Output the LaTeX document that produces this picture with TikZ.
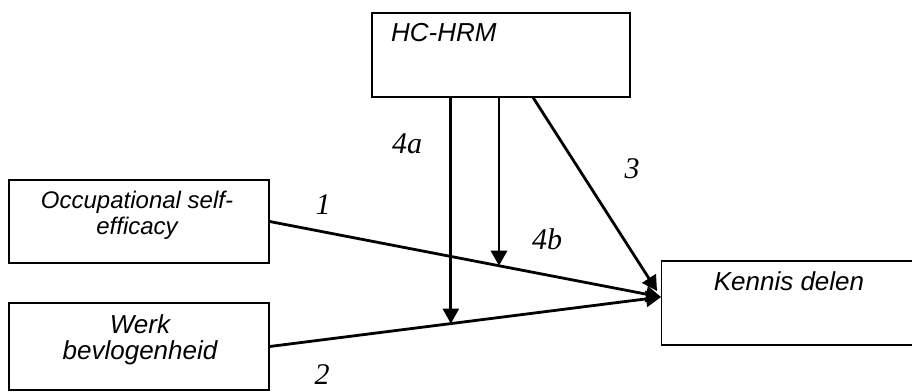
\documentclass[tikz,border=0pt]{standalone}
\usepackage{fontspec}
\setmainfont{Liberation Serif}
\setsansfont{Liberation Sans}
\usetikzlibrary{arrows.meta,calc}
\begin{document}
\begin{tikzpicture}[x=1pt,y=-1pt,
  box/.style={draw,line width=1.3pt,rectangle,inner sep=0pt},
  boxtext/.style={font=\sffamily\itshape\fontsize{26}{26}\selectfont,align=center,inner sep=0pt},
  numlabel/.style={font=\itshape\fontsize{30}{30}\selectfont,inner sep=0pt},
  conn/.style={line width=2.8pt,-{Triangle[length=15pt,width=16pt]}}]
\clip (0,0) rectangle (912,391);
\useasboundingbox (0,0) rectangle (912,391);
% boxes
\node[box,minimum width=258pt,minimum height=84pt] (hc) at (501,55) {};
\node[box,minimum width=260pt,minimum height=83pt] (occ) at (139,221.5) {};
\node[box,minimum width=260pt,minimum height=87pt] (werk) at (139,346.5) {};
\node[box,minimum width=260pt,minimum height=84pt,anchor=west] (ken) at (661,303) {};
% box texts
\node[boxtext,anchor=west] (thc) at (391,33) {HC-HRM};
\node[boxtext,font=\sffamily\itshape\fontsize{24}{26}\selectfont] (tocc) at (137,215) {Occupational self-\\efficacy};
\node[boxtext] (twerk) at (140,340) {Werk\\bevlogenheid};
\node[boxtext] (tken) at (789,281) {Kennis delen};
% connector ends
\coordinate (tip) at (661,297);
\coordinate (tip3) at (657,291);
\coordinate (m1) at ($(occ.east)!0.586!(tip)$);
\coordinate (m2) at ($(werk.east)!0.463!(tip)$);
\coordinate (s3) at ($(hc.south west)!0.624!(hc.south east)$);
% connectors
\draw[conn] (occ.east) -- (tip);
\draw[conn] (werk.east) -- (tip);
\draw[conn] (s3) -- (tip3);
\draw[conn] (hc.south -| m1) -- (m1);
\draw[conn] (hc.south -| m2) -- (m2);
% labels
\node[numlabel] (l1) at (323,205) {1};
\node[numlabel] (l2) at (322,375) {2};
\node[numlabel] (l3) at (632,169) {3};
\node[numlabel] (l4a) at (407,144) {4a};
\node[numlabel] (l4b) at (547,239) {4b};
\end{tikzpicture}
\end{document}
